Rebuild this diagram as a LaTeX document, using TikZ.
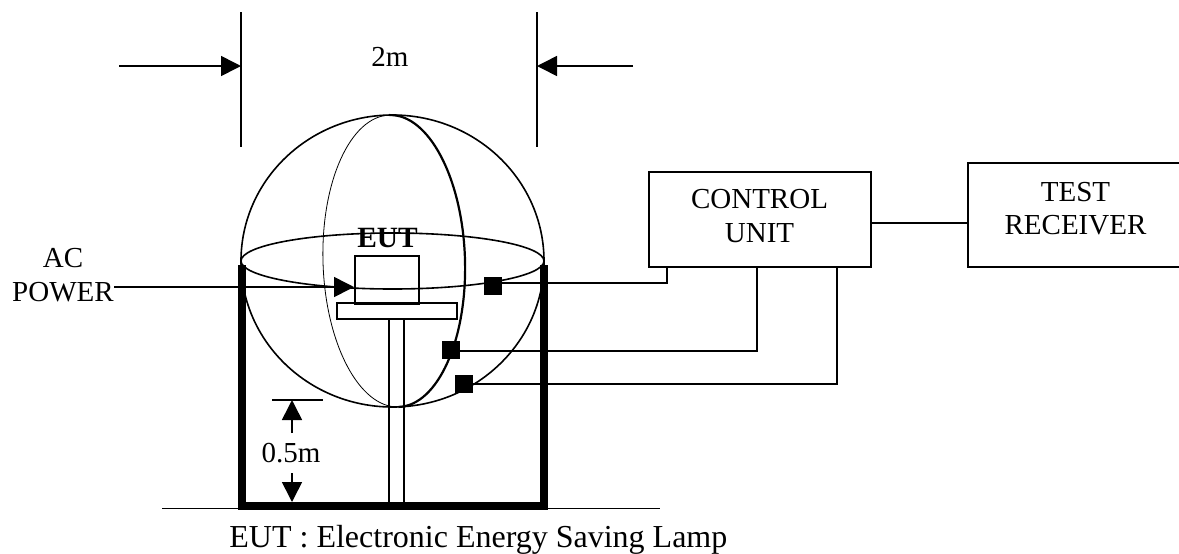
\documentclass[tikz,border=0pt]{standalone}
\usepackage{fontspec}
\setmainfont{Liberation Serif}
\usetikzlibrary{arrows.meta}
\tikzset{
    thinwire/.style={line width=0.8pt},
    frame/.style={line width=4pt},
    bigtip/.style={-{Triangle[length=10pt,width=10pt]}},
    sensor/.style={fill=black,minimum size=9pt,inner sep=0pt},
    unitbox/.style={draw,thinwire,inner sep=0pt},
    txt/.style={inner sep=0pt,align=center,font=\fontsize{14.5}{16.8}\selectfont}
}
\begin{document}
\begin{tikzpicture}[x=0.5pt,y=-0.5pt]
    \useasboundingbox (0,0) rectangle (1179,553);

    % floor and frame
    \coordinate (floorl) at (162,508.5);
    \coordinate (floorr) at (660,508.5);
    \draw[thinwire] (floorl) -- (floorr);
    \draw[frame] (241.5,265) -- (241.5,505.5) -- (543.5,505.5) -- (543.5,265);

    % sphere
    \draw[thinwire] (392.5,261) ellipse [x radius=151.5,y radius=146];
    \draw[thinwire] (392.5,261) ellipse [x radius=151.5,y radius=28];
    \draw[line width=0.4pt,rotate around={1.8:(394,261)}] (394,115) arc [start angle=270,end angle=90,x radius=71,y radius=146];
    \draw[line width=1.1pt,rotate around={1.8:(394,261)}] (394,115) arc [start angle=-90,end angle=90,x radius=71,y radius=146];

    % lamp
    \node[unitbox,minimum width=32pt,minimum height=24pt] (eut) at (387,280) {};
    \node[unitbox,minimum width=60pt,minimum height=8pt] (base) at (397,311) {};
    \draw[thinwire] (389,0 |- base.south) -- (389,502) (404,0 |- base.south) -- (404,502);
    \node[txt,font=\fontsize{14.7}{17}\selectfont\bfseries] (eutlabel) at (387.5,238) {EUT};

    % power
    \node[txt] (power) at (63,275) {AC\\POWER};
    \coordinate (powerend) at (354,287);
    \draw[thinwire,bigtip] (114,287) -- (powerend);

    % units
    \node[unitbox,minimum width=111pt,minimum height=47.5pt] (control) at (760,219.5) {};
    \node[txt] (controltext) at (759.5,216) {CONTROL\\UNIT};
    \node[unitbox,minimum width=108.5pt,minimum height=52pt] (receiver) at (1076.5,215) {};
    \node[txt] (receivertext) at (1075.5,208.5) {TEST\\RECEIVER};
    \draw[thinwire] (control.east |- 0,223) -- (receiver.west |- 0,223);

    % sensors
    \node[sensor] (s1) at (493,286) {};
    \node[sensor] (s2) at (451,350) {};
    \node[sensor] (s3) at (464,384) {};
    \draw[thinwire] (s1.east |- 0,283) -- (667,283) -- (667,0 |- control.south);
    \draw[thinwire] (s2.east |- 0,351) -- (757,351) -- (757,0 |- control.south);
    \draw[thinwire] (s3) -- (837,384) -- (837,0 |- control.south);

    % dimensions
    \draw[thinwire] (241,12) -- (241,147) (537,12) -- (537,147);
    \draw[thinwire,bigtip] (119,66) -- (241,66);
    \draw[thinwire,bigtip] (633,66) -- (537,66);
    \node[txt] (width) at (390,57) {2m};
    \draw[thinwire] (272,400) -- (323,400);
    \node[txt] (height) at (291,453) {0.5m};
    \draw[thinwire,bigtip] (292,433) -- (292,400);
    \draw[thinwire,bigtip] (292,473) -- (292,502);

    \node[txt,anchor=base west,font=\fontsize{16}{18}\selectfont] (note) at (229,547) {EUT : Electronic Energy Saving Lamp};
\end{tikzpicture}
\end{document}
